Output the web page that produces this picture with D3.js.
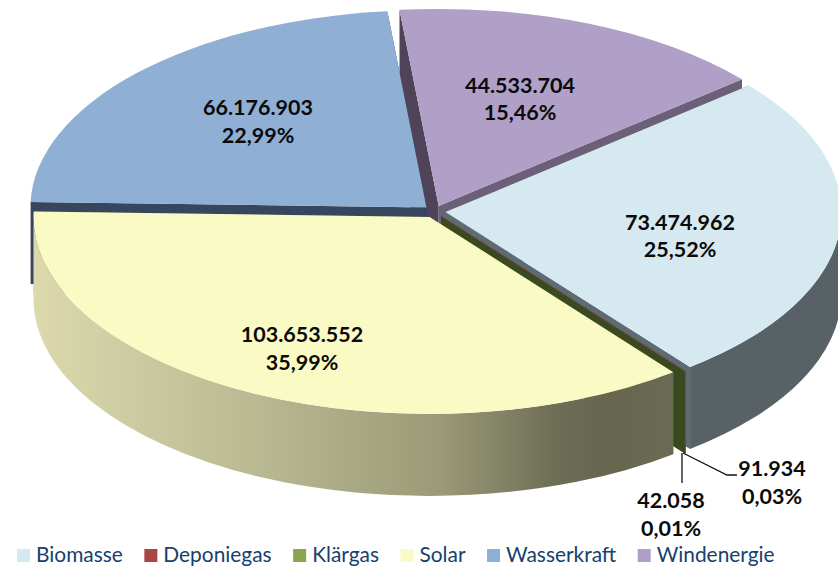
<!DOCTYPE html>
<html><head><meta charset="utf-8">
<style>html,body{margin:0;padding:0;background:#fff}svg{display:block}</style>
<script src="https://cdn.jsdelivr.net/npm/d3@7/dist/d3.min.js"></script>
</head><body><svg id="c" width="838" height="568"></svg>
<script>
const categories=["Biomasse","Deponiegas","Klärgas","Solar","Wasserkraft","Windenergie"];
const seriesValues=[73474962,91934,42058,103653552,66176903,44533704];
const percentLabels=["25,52%","0,03%","0,01%","35,99%","22,99%","15,46%"];
const topColors=["#d6e9f1","#a94643","#8aa54c","#f9fac4","#8fafd5","#b09fc6"];
const wallColors=["#586266","#5a2a28","#3a4a20","url(#solarWall)","#36465e","#5d5069"];
const startFaceColors=["#5d6b74","#7a3a36","#3a4a20","#6a6a52","#36465e","#4e4358"];
const endFaceColors=["#5d6b74","#8a4a40","#3a4a20","#6a6a52","#36465e","#6c5f78"];

const cx=434.5, cy=211.5, rx=396, ry=197, depth=82, explode=11;
const startDeg=50;
const labelLayout=[[680,222,680,249],null,null,[302,334,302,362],[258,107,258,135],[520,85,520,112]];

const svg=d3.select("#c");
const defs=svg.append("defs");
const g=defs.append("linearGradient").attr("id","solarWall").attr("gradientUnits","userSpaceOnUse")
 .attr("x1",33).attr("x2",670).attr("y1",0).attr("y2",0);
[[0,"#dcd9ad"],[.32,"#bcbc95"],[.64,"#9a9a78"],[.82,"#6e6e56"],[.9,"#66664f"],[1,"#6b6a52"]]
 .forEach(([o,c])=>g.append("stop").attr("offset",o).attr("stop-color",c));

const a0=startDeg*Math.PI/180;
const pie=d3.pie().sort(null).startAngle(a0).endAngle(a0+2*Math.PI);
const arcs=pie(seriesValues);
const arcGen=d3.arc().innerRadius(0).outerRadius(rx);

const geom=arcs.map((d,i)=>{
  const m=(d.startAngle+d.endAngle)/2;
  const ax=cx+explode*Math.sin(m), ay=cy-explode*Math.cos(m)*0.55;
  const pt=t=>[ax+rx*Math.sin(t), ay-ry*Math.cos(t)];
  return {d,i,ax,ay,pt};
});
const quad=(p,q)=>`M${p[0]},${p[1]}L${q[0]},${q[1]}L${q[0]},${q[1]+depth}L${p[0]},${p[1]+depth}Z`;
const wallPath=(s,t0,t1)=>{
  const a=s.pt(t0), b=s.pt(t1), f=(t1-t0)>Math.PI?1:0;
  return `M${a[0]},${a[1]}A${rx},${ry} 0 ${f} 1 ${b[0]},${b[1]}L${b[0]},${b[1]+depth}A${rx},${ry} 0 ${f} 0 ${a[0]},${a[1]+depth}Z`;
};
const layer=svg.append("g");
function drawFaces(s){
  layer.append("path").attr("d",quad([s.ax,s.ay],s.pt(s.d.startAngle))).attr("fill",startFaceColors[s.i]);
  layer.append("path").attr("d",quad([s.ax,s.ay],s.pt(s.d.endAngle))).attr("fill",endFaceColors[s.i]);
}
function drawWall(s){
  const lo=Math.PI/2, hi=3*Math.PI/2;
  const c0=Math.max(s.d.startAngle,lo), c1=Math.min(s.d.endAngle,hi);
  if(c1>c0) layer.append("path").attr("d",wallPath(s,c0,c1)).attr("fill",wallColors[s.i]);
}
function drawTop(s){
  return layer.append("path").attr("d",arcGen(s.d))
   .attr("transform",`translate(${s.ax},${s.ay}) scale(1,${ry/rx})`)
   .attr("fill",topColors[s.i]);
}
// painter's order: back slices, then right, slivers, then the front slice
[5,4].forEach(i=>drawFaces(geom[i]));
[5,4].forEach(i=>drawTop(geom[i]));
drawFaces(geom[0]);drawWall(geom[0]);drawTop(geom[0]);
[1,2].forEach(i=>{drawFaces(geom[i]);});
// thin red seam of the smallest slice, on its top and its outer corner
const seamEnd=geom[2].pt(geom[2].d.startAngle);
layer.append("path").attr("d",d3.line()([[geom[2].ax,geom[2].ay],seamEnd,[seamEnd[0],seamEnd[1]+depth]]))
  .attr("fill","none").attr("stroke",topColors[1]).attr("stroke-width",.8).attr("opacity",.65);
drawFaces(geom[3]);drawWall(geom[3]);drawTop(geom[3]);

// data labels
const font="Lato, sans-serif";
const fmt=d3.formatLocale({decimal:",",thousands:".",grouping:[3],currency:["",""]}).format(",d");
const labelG=svg.append("g").attr("font-family",font).attr("font-weight",700).attr("font-size",21.5)
  .attr("text-anchor","middle").attr("fill","#0a0a0a");
function lab(x1,y1,x2,y2,i){
  labelG.append("text").attr("x",x1).attr("y",y1).attr("dy","0.35em").text(fmt(seriesValues[i]));
  labelG.append("text").attr("x",x2).attr("y",y2).attr("dy","0.35em").text(percentLabels[i]);
}
labelLayout.forEach((l,i)=>{if(l)lab(l[0],l[1],l[2],l[3],i);});
lab(772,468,772,496,1);
lab(671,500,671,528,2);
// leader lines
const leader=d3.line();
svg.append("path").attr("d",leader([[683,453],[727,475],[737,475]])).attr("fill","none").attr("stroke","#111").attr("stroke-width",1.3);
svg.append("path").attr("d",leader([[682,453],[682,483]])).attr("fill","none").attr("stroke","#111").attr("stroke-width",1.3);

// legend
const leg=svg.append("g").attr("font-family",font).attr("font-size",20.9).attr("fill","#17406d");
let lx=17;
categories.forEach((c,i)=>{
  leg.append("rect").attr("x",lx).attr("y",549).attr("width",13).attr("height",13).attr("fill",topColors[i]);
  const t=leg.append("text").attr("x",lx+19).attr("y",562).text(c);
  lx+=19+t.node().getComputedTextLength()+21.5;
});
</script></body></html>
